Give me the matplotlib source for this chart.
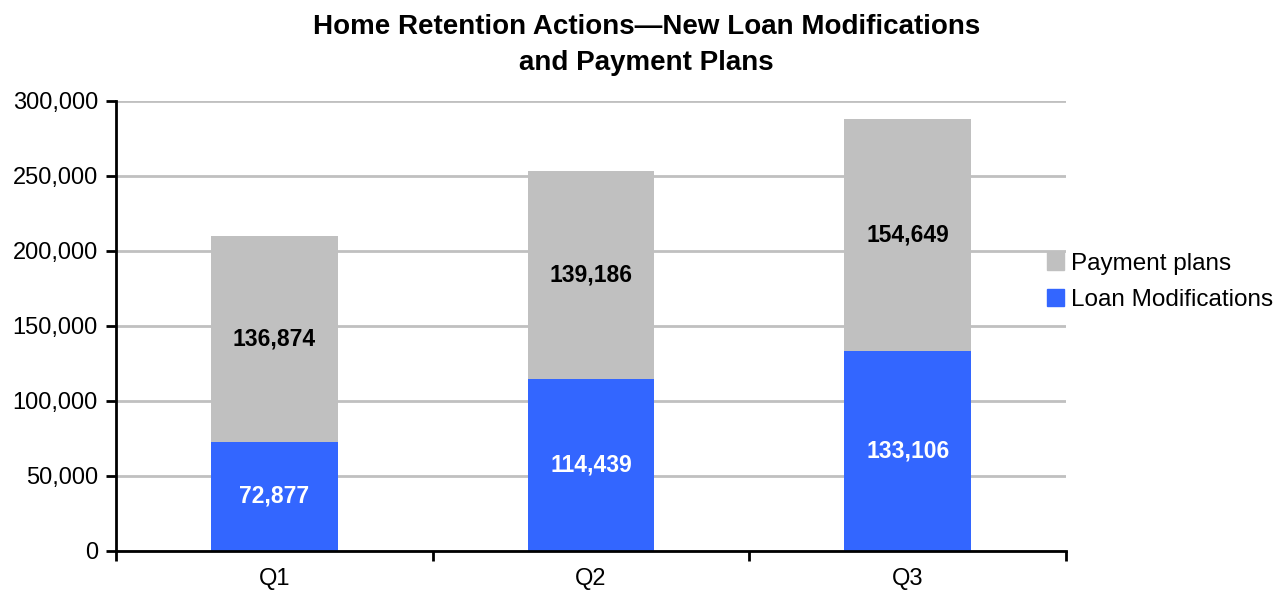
import numpy as np
import matplotlib.pyplot as plt
from matplotlib.ticker import FuncFormatter, FixedLocator
from matplotlib.patches import Patch

plt.rcParams['font.family'] = ['Liberation Sans', 'DejaVu Sans']

quarters = ["Q1", "Q2", "Q3"]
loan_mods = [72877, 114439, 133106]
payment_plans = [136874, 139186, 154649]

blue = "#3366FF"
grey = "#C0C0C0"

fig = plt.figure(figsize=(12.78, 5.94), dpi=100)
ax = fig.add_axes([0.0908, 0.0724, 0.7433, 0.7576])

x = np.arange(len(quarters))
w = 0.4
ax.bar(x, loan_mods, w, color=blue, zorder=2)
ax.bar(x, payment_plans, w, bottom=loan_mods, color=grey, zorder=2)

for xi, lm, pp in zip(x, loan_mods, payment_plans):
    ax.text(xi, lm / 2, f"{lm:,}", ha="center", va="center",
            color="white", fontsize=16.5, fontweight="bold", zorder=3)
    ax.text(xi, lm + pp / 2, f"{pp:,}", ha="center", va="center",
            color="black", fontsize=16.5, fontweight="bold", zorder=3)

ax.set_xlim(-0.5, 2.5)
ax.set_ylim(0, 300000)
ax.set_yticks(np.arange(0, 300001, 50000))
ax.yaxis.set_major_formatter(FuncFormatter(lambda v, p: f"{int(v):,}"))
ax.yaxis.grid(True, color=grey, linewidth=2, zorder=0)
ax.set_axisbelow(True)

# category boundaries get tick marks, labels sit at centres
ax.xaxis.set_major_locator(FixedLocator([-0.5, 0.5, 1.5, 2.5]))
ax.xaxis.set_minor_locator(FixedLocator(x))
ax.set_xticklabels([])
ax.set_xticklabels(quarters, minor=True)
ax.tick_params(axis="x", which="major", length=7, width=2, direction="out")
ax.tick_params(axis="x", which="minor", length=0, pad=12, labelsize=17)
ax.tick_params(axis="y", length=7, width=2, labelsize=17, pad=6)

for s in ["top", "right"]:
    ax.spines[s].set_visible(False)
for s in ["left", "bottom"]:
    ax.spines[s].set_linewidth(2)

fig.text(0.506, 1 - 44.5 / 594,
         "Home Retention Actions\u2014New Loan Modifications\nand Payment Plans",
         ha="center", va="center", fontsize=20, fontweight="bold", linespacing=1.5)

handles = [Patch(color=grey, label="Payment plans"),
           Patch(color=blue, label="Loan Modifications")]
fig.legend(handles=handles, loc="center left", bbox_to_anchor=(0.802, 0.526),
           frameon=False, fontsize=17.5, handlelength=0.7, handleheight=0.7,
           handletextpad=0.3, labelspacing=0.58)

fig.savefig("out.png", dpi=100)
